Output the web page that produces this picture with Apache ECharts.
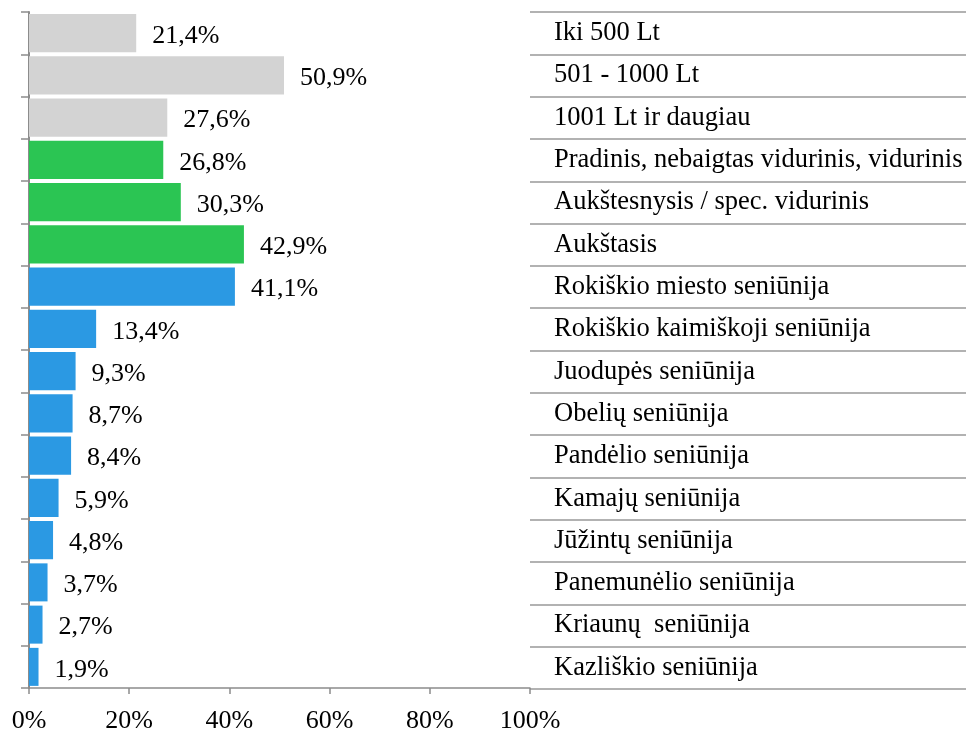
<!DOCTYPE html>
<html>
<head>
<meta charset="utf-8">
<script src="https://cdn.jsdelivr.net/npm/echarts@6/dist/echarts.min.js"></script>
<style>
  html, body { margin: 0; padding: 0; background: #fff; }
  #chart { width: 977px; height: 734px; }
</style>
</head>
<body>
<div id="chart"></div>
<script>
const categories = [
  'Iki 500 Lt',
  '501 - 1000 Lt',
  '1001 Lt ir daugiau',
  'Pradinis, nebaigtas vidurinis, vidurinis',
  'Aukštesnysis / spec. vidurinis',
  'Aukštasis',
  'Rokiškio miesto seniūnija',
  'Rokiškio kaimiškoji seniūnija',
  'Juodupės seniūnija',
  'Obelių seniūnija',
  'Pandėlio seniūnija',
  'Kamajų seniūnija',
  'Jūžintų seniūnija',
  'Panemunėlio seniūnija',
  'Kriaunų  seniūnija',
  'Kazliškio seniūnija'
]
const values = [21.4, 50.9, 27.6, 26.8, 30.3, 42.9, 41.1, 13.4, 9.3, 8.7, 8.4, 5.9, 4.8, 3.7, 2.7, 1.9]
const groups = ['income', 'income', 'income', 'edu', 'edu', 'edu',
  'area', 'area', 'area', 'area', 'area', 'area', 'area', 'area', 'area', 'area']
const groupColors = { income: '#d3d3d3', edu: '#2bc553', area: '#2b99e3' }
const xTicks = [0, 20, 40, 60, 80, 100]

const font = '"Liberation Serif", "Times New Roman", serif'

var myChart = echarts.init(document.getElementById('chart'))

let barData = []
for (let i = 0; i < values.length; i++) {
  barData.push({
    value: values[i],
    itemStyle: { color: groupColors[groups[i]] }
  })
}

myChart.setOption({
  backgroundColor: '#fff',
  animation: false,
  grid: [
    { left: 29, top: 12, width: 501, bottom: 45 },
    { left: 530, top: 12, right: 11, bottom: 45 }
  ],
  xAxis: [
    {
      gridIndex: 0,
      type: 'value',
      min: xTicks[0],
      max: xTicks[xTicks.length - 1],
      interval: 20,
      axisLine: { show: true, lineStyle: { color: '#8c8c8c', width: 1.5 } },
      axisTick: { show: true, length: 6, lineStyle: { color: '#8c8c8c', width: 1.5 } },
      splitLine: { show: false },
      axisLabel: {
        margin: 20,
        color: '#000',
        fontFamily: font,
        fontSize: 26,
        formatter: '{value}%'
      }
    },
    {
      gridIndex: 1,
      type: 'value',
      min: 0,
      max: 1,
      show: false
    }
  ],
  yAxis: [
    {
      gridIndex: 0,
      type: 'category',
      inverse: true,
      data: categories,
      axisLine: { show: true, lineStyle: { color: '#8c8c8c', width: 2 } },
      axisTick: { show: true, length: 8, lineStyle: { color: '#8c8c8c', width: 1.5 } },
      axisLabel: { show: false }
    },
    {
      gridIndex: 1,
      type: 'category',
      inverse: true,
      data: categories,
      axisLine: { show: false },
      axisTick: { show: false },
      splitLine: { show: true, lineStyle: { color: '#999', width: 1.5 } },
      axisLabel: {
        inside: true,
        margin: 24,
        padding: [6, 0, 0, 0],
        color: '#000',
        fontFamily: font,
        fontSize: 26.5
      }
    }
  ],
  series: [
    {
      type: 'bar',
      xAxisIndex: 0,
      yAxisIndex: 0,
      barCategoryGap: '10%',
      data: barData,
      label: {
        show: true,
        position: 'right',
        distance: 16,
        offset: [0, 3],
        color: '#000',
        fontFamily: font,
        fontSize: 26,
        formatter: p => String(p.value).replace('.', ',') + '%'
      }
    }
  ]
})
</script>
</body>
</html>
